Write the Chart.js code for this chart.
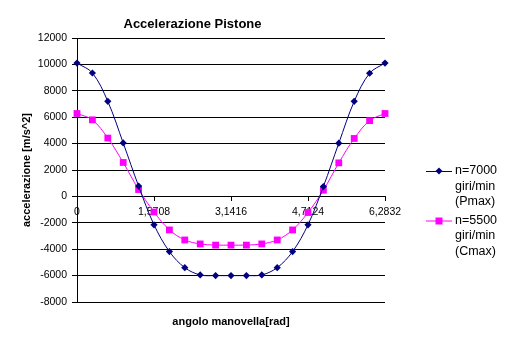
<!DOCTYPE html>
<html>
<head>
<meta charset="utf-8">
<title>Accelerazione Pistone</title>
<script src="https://cdn.jsdelivr.net/npm/chart.js@4.4.1/dist/chart.umd.min.js"></script>
<style>
  html, body { margin: 0; padding: 0; background: #fff; }
</style>
</head>
<body>
<canvas id="chart" width="513" height="342"></canvas>
<script>
// angolo manovella [rad], un punto ogni pi/10
const angles = [0, 0.3142, 0.6283, 0.9425, 1.2566, 1.5708, 1.885, 2.1991, 2.5133, 2.8274,
  3.1416, 3.4558, 3.7699, 4.0841, 4.3982, 4.7124, 5.0265, 5.3407, 5.6549, 5.969, 6.2832];
const tickValues = [0, 1.5708, 3.1416, 4.7124, 6.2832];
const tickLabels = ['0', '1,5708', '3,1416', '4,7124', '6,2832'];

// accelerazione [m/s^2]
const acc7000 = [10100, 9350, 7200, 4050, 780, -2150, -4180, -5400, -5950, -6000,
  -6000, -6000, -5950, -5400, -4180, -2150, 750, 4030, 7200, 9330, 10100];
const acc5500 = [6280, 5800, 4420, 2570, 520, -1180, -2540, -3300, -3600, -3690,
  -3690, -3690, -3600, -3300, -2540, -1220, 470, 2540, 4390, 5740, 6280];

const seriesNames = [
  ['n=7000', 'giri/min', '(Pmax)'],
  ['n=5500', 'giri/min', '(Cmax)']
];

Chart.defaults.font.family = '"Liberation Sans", Arial, sans-serif';
Chart.defaults.color = '#000';

// legenda a destra come in Excel: linea + marcatore, testo su tre righe
const sideLegend = {
  id: 'sideLegend',
  afterDraw(chart) {
    const ctx = chart.ctx;
    ctx.save();
    ctx.font = '12.5px "Liberation Sans", Arial, sans-serif';
    ctx.textBaseline = 'middle';
    ctx.textAlign = 'left';
    chart.data.datasets.forEach((ds, i) => {
      const y = 171 + i * 49.5;
      ctx.strokeStyle = ds.borderColor;
      ctx.lineWidth = 1;
      ctx.beginPath();
      ctx.moveTo(426, y + 0.5);
      ctx.lineTo(452, y + 0.5);
      ctx.stroke();
      ctx.fillStyle = ds.backgroundColor;
      ctx.beginPath();
      if (ds.pointStyle === 'rectRot') {
        ctx.moveTo(439, y - 3.5);
        ctx.lineTo(442.5, y);
        ctx.lineTo(439, y + 3.5);
        ctx.lineTo(435.5, y);
        ctx.closePath();
      } else {
        ctx.rect(435.5, y - 3, 7, 7);
      }
      ctx.fill();
      ctx.fillStyle = '#000';
      seriesNames[i].forEach((line, j) => {
        ctx.fillText(line, 455, y + j * 15.5);
      });
    });
    ctx.restore();
  }
};

new Chart(document.getElementById('chart').getContext('2d'), {
  type: 'line',
  data: {
    datasets: [
      {
        label: seriesNames[0].join(' '),
        data: angles.map((a, i) => ({ x: a, y: acc7000[i] })),
        borderColor: '#000080',
        backgroundColor: '#000080',
        borderWidth: 1,
        pointStyle: 'rectRot',
        pointRadius: 3.6,
        pointBorderWidth: 0,
        tension: 0.35,
        clip: false,
        xAxisID: 'x'
      },
      {
        label: seriesNames[1].join(' '),
        data: angles.map((a, i) => ({ x: a, y: acc5500[i] })),
        borderColor: '#FF00FF',
        backgroundColor: '#FF00FF',
        borderWidth: 1,
        pointStyle: 'rect',
        pointRadius: 4.8,
        pointBorderWidth: 0,
        tension: 0.35,
        clip: false,
        xAxisID: 'x'
      }
    ]
  },
  options: {
    responsive: false,
    devicePixelRatio: 1,
    animation: false,
    layout: { padding: { left: 0, right: 128, top: 0, bottom: 0 } },
    scales: {
      x: {
        type: 'linear',
        position: { y: 0 },
        min: 0,
        max: 6.2832,
        afterBuildTicks: s => { s.ticks = tickValues.map(v => ({ value: v })); },
        afterFit: s => { s.height = 0; },
        ticks: {
          autoSkip: false,
          maxRotation: 0,
          padding: 5,
          font: { size: 10.5 },
          callback: (v, i) => tickLabels[i]
        },
        grid: { drawOnChartArea: false, drawTicks: true, tickLength: 4, color: '#000' },
        border: { color: '#000', width: 1 }
      },
      xt: {
        type: 'linear',
        position: 'bottom',
        afterFit: s => { s.height = 40; },
        ticks: { display: false },
        grid: { display: false },
        border: { display: false },
        title: {
          display: true,
          text: 'angolo manovella[rad]',
          font: { size: 11, weight: 'bold' },
          padding: { top: 13.4, bottom: 13.4 }
        }
      },
      y: {
        min: -8000,
        max: 12000,
        afterFit: s => { s.width = 77; },
        ticks: {
          stepSize: 2000,
          padding: 5,
          font: { size: 10.5 },
          callback: v => String(v)
        },
        grid: { color: '#000', tickLength: 5 },
        border: { color: '#000', width: 1 },
        title: {
          display: true,
          text: 'accelerazione [m/s^2]',
          font: { size: 11, weight: 'bold' },
          padding: { top: 20.4, bottom: 0 }
        }
      }
    },
    plugins: {
      legend: { display: false },
      tooltip: { enabled: false },
      title: {
        display: true,
        text: 'Accelerazione Pistone',
        font: { size: 13, weight: 'bold' },
        color: '#000',
        padding: { top: 17, bottom: 5.4 }
      }
    }
  },
  plugins: [sideLegend]
});
</script>
</body>
</html>
